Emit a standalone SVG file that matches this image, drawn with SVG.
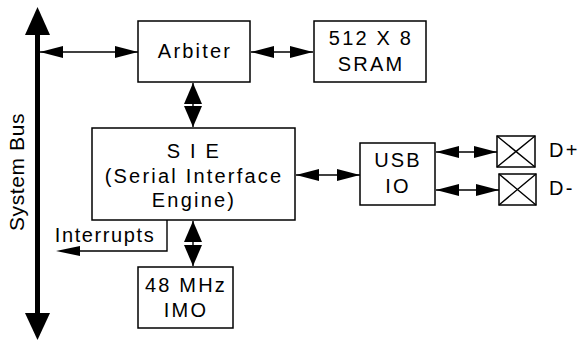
<svg xmlns="http://www.w3.org/2000/svg" width="578" height="341" viewBox="0 0 578 341">
<defs>
<style>
.box{fill:#fff;stroke:#000;stroke-width:1.5}
.t{font-family:"Liberation Sans",Arial,sans-serif;font-size:20px;letter-spacing:2.2px;fill:#000;text-anchor:middle}
.ln{fill:none;stroke:#000;stroke-width:1.4}
.h{marker-start:url(#ah);marker-end:url(#ah)}
.v{marker-start:url(#av);marker-end:url(#av)}
</style>
<marker id="ah" markerUnits="userSpaceOnUse" markerWidth="24" markerHeight="14" viewBox="0 0 24 14" refX="23" refY="7" orient="auto-start-reverse">
<path d="M0,1 L23,7 L0,13 Z" fill="#000"/>
</marker>
<marker id="av" markerUnits="userSpaceOnUse" markerWidth="22" markerHeight="20" viewBox="0 0 22 20" refX="21" refY="10" orient="auto-start-reverse">
<path d="M0,1 L21,10 L0,19 Z" fill="#000"/>
</marker>
</defs>
<rect width="578" height="341" fill="#fff"/>
<g id="connectors">
<line class="ln h" x1="40" y1="52" x2="138" y2="52"/>
<line class="ln h" x1="251" y1="52" x2="313" y2="52"/>
<line class="ln v" x1="193" y1="83" x2="193" y2="127"/>
<line class="ln h" x1="296" y1="175" x2="360" y2="175"/>
<line class="ln h" x1="436" y1="152" x2="497" y2="152"/>
<line class="ln h" x1="436" y1="190" x2="499" y2="190"/>
<polyline class="ln" points="167,220 167,251 80,251"/>
<path d="M80,246 L56,251 L80,256 Z" fill="#000"/>
<line class="ln v" x1="193" y1="221" x2="193" y2="266"/>
</g>
<g id="system-bus">
<line x1="37.5" y1="34" x2="37.5" y2="314" stroke="#000" stroke-width="5"/>
<path d="M37.5,7 L50,35 L25,35 Z" fill="#000"/>
<path d="M37.5,340 L50,313 L25,313 Z" fill="#000"/>
<text class="t" transform="translate(24,172) rotate(-90)" style="letter-spacing:0.6px;font-size:21px">System Bus</text>
</g>
<g id="arbiter">
<rect class="box" x="138" y="21" width="112" height="61"/>
<text class="t" x="195" y="58">Arbiter</text>
</g>
<g id="sram">
<rect class="box" x="314" y="21" width="112" height="61"/>
<text class="t" x="371" y="45">512 X 8</text>
<text class="t" x="371" y="71">SRAM</text>
</g>
<g id="sie">
<rect class="box" x="92" y="128" width="203" height="92"/>
<text class="t" x="194" y="158">S I E</text>
<text class="t" x="194" y="183">(Serial Interface</text>
<text class="t" x="194" y="207">Engine)</text>
</g>
<g id="usb-io">
<rect class="box" x="360" y="143" width="75" height="62"/>
<text class="t" x="398" y="167">USB</text>
<text class="t" x="398" y="193">IO</text>
</g>
<g id="d-plus">
<rect class="box" x="497" y="136" width="38" height="31"/>
<path class="ln" d="M497,136 L535,167 M535,136 L497,167"/>
<text class="t" x="549" y="157" style="text-anchor:start">D+</text>
</g>
<g id="d-minus">
<rect class="box" x="499" y="174" width="37" height="31"/>
<path class="ln" d="M499,174 L536,205 M536,174 L499,205"/>
<text class="t" x="549" y="195" style="text-anchor:start">D-</text>
</g>
<g id="interrupts">
<text class="t" x="105" y="242" style="letter-spacing:1.6px">Interrupts</text>
</g>
<g id="imo">
<rect class="box" x="138" y="267" width="95" height="61"/>
<text class="t" x="186" y="292">48 MHz</text>
<text class="t" x="186" y="317">IMO</text>
</g>
</svg>
